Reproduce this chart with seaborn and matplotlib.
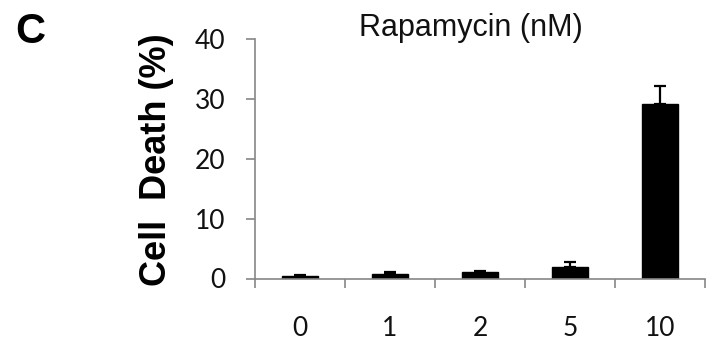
import matplotlib
matplotlib.use("Agg")
import matplotlib.pyplot as plt
import seaborn as sns
import pandas as pd
import numpy as np

categories = ["0", "1", "2", "5", "10"]
values = [0.4, 0.75, 1.05, 2.0, 29.1]
errors = [0.25, 0.3, 0.25, 0.75, 3.0]
yticks = [0, 10, 20, 30, 40]

sns.set_theme(style="white")
plt.rcParams['font.family'] = ['Lato', 'DejaVu Sans']

df = pd.DataFrame({"conc": categories, "death": values})

fig = plt.figure(figsize=(7.07, 3.44), dpi=100)
ax = fig.add_axes([255/707, 1-278.5/344, 450/707, 239.5/344])

sns.barplot(data=df, x="conc", y="death", order=categories, color="black",
            width=0.4, errorbar=None, ax=ax, saturation=1)
for p in ax.patches:
    p.set_edgecolor("black")
    p.set_facecolor("black")

xpos = np.arange(len(categories))
ax.errorbar(xpos, values, yerr=[np.zeros(len(errors)), errors], fmt="none",
            ecolor="black", elinewidth=1.6, capsize=4.5, capthick=1.6, zorder=3)

ax.set_xlim(-0.5, len(categories) - 0.5)
ax.set_ylim(0, 40)
ax.set_yticks(yticks)
ax.set_yticklabels([str(t) for t in yticks], fontsize=19, color="#111111")

# category boundary ticks (major), labels on minor
ax.set_xticks(np.arange(-0.5, len(categories), 1.0))
ax.set_xticklabels([])
ax.set_xticks(xpos, minor=True)
ax.set_xticklabels(categories, minor=True, fontsize=19, color="#111111")
ax.tick_params(axis="x", which="major", direction="out", length=6.5, width=1.2, color="#868686")
ax.tick_params(axis="x", which="minor", length=0, pad=27)
ax.tick_params(axis="y", direction="out", length=6.5, width=1.2, color="#868686", pad=15)
ax.tick_params(left=True, bottom=True)

for s in ["top", "right"]:
    ax.spines[s].set_visible(False)
for s in ["left", "bottom"]:
    ax.spines[s].set_color("#868686")
    ax.spines[s].set_linewidth(1.2)

ax.set_xlabel("")
ax.set_ylabel("Cell  Death (%)", fontsize=26, fontweight="bold",
              family=["Liberation Sans", "DejaVu Sans"], color="black")
ax.yaxis.set_label_coords(-0.18, 0.495)

fig.text(471/707, 1-36/344, "Rapamycin (nM)", ha="center", va="baseline",
         fontsize=22, color="#111111", family=["Liberation Sans", "DejaVu Sans"])
fig.text(30/707, 1-32/344, "C", ha="center", va="center", fontsize=30,
         fontweight="bold", family=["Liberation Sans", "DejaVu Sans"], color="black")

fig.savefig("out.png", dpi=100)
